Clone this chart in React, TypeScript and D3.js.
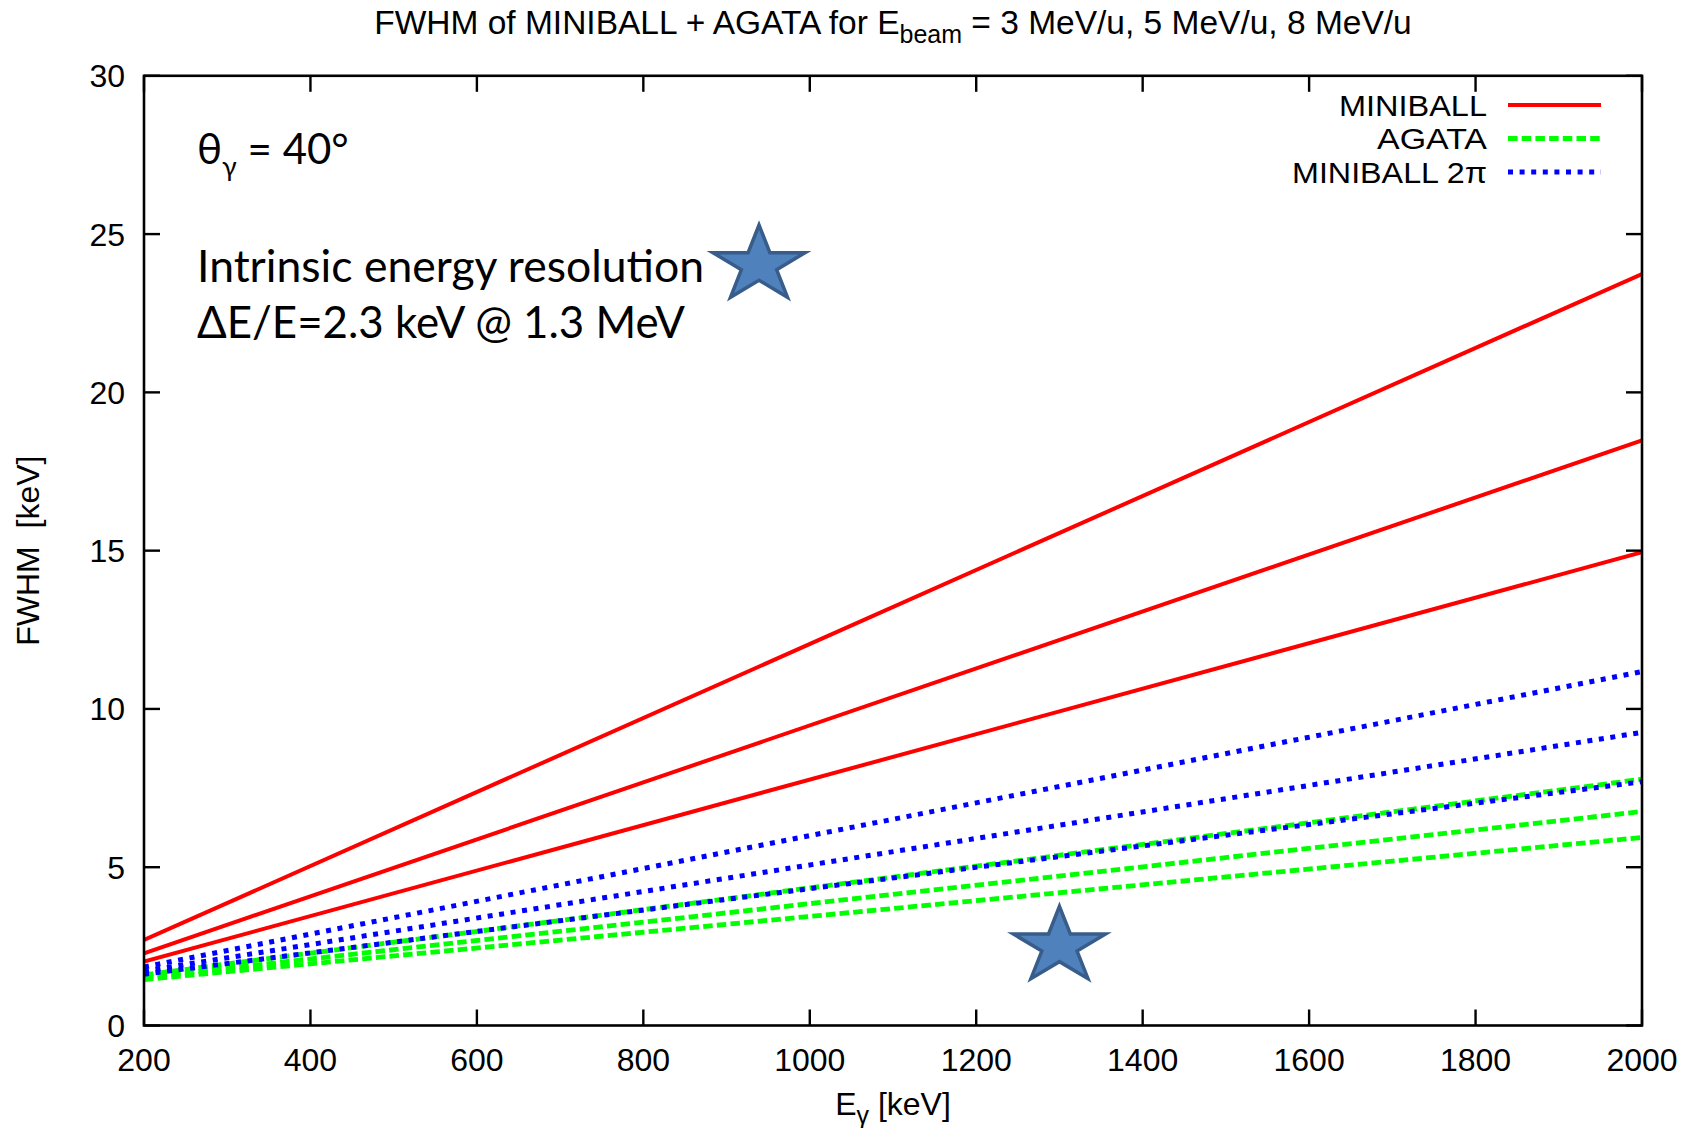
import React from "react";
import * as d3 from "d3";

// ---- data ----
const ENERGIES = [200, 2000];
const MINIBALL_3 = [2.02, 14.95];
const MINIBALL_5 = [2.28, 18.48];
const MINIBALL_8 = [2.7, 23.74];
const AGATA_3 = [1.45, 5.94];
const AGATA_5 = [1.52, 6.76];
const AGATA_8 = [1.6, 7.78];
const MB2PI_3 = [1.62, 7.7];
const MB2PI_5 = [1.72, 9.26];
const MB2PI_8 = [1.85, 11.18];
const X_TICKS = [200, 400, 600, 800, 1000, 1200, 1400, 1600, 1800, 2000];
const Y_TICKS = [0, 5, 10, 15, 20, 25, 30];
const INTRINSIC_POINT = { e: 1300, fwhm: 2.5 };
const LEGEND = ["MINIBALL", "AGATA", "MINIBALL 2\u03c0"];
const LEGEND_WIDTHS = [148, 110, 195];

const W = 1698;
const H = 1128;
const L = 144, R = 1642, T = 75.8, B = 1025.5;

const RED = "#ff0000", GREEN = "#00ff00", BLUE = "#0000ff";
const STYLES: Record<string, { color: string; dash?: string; width: number }> = {
  mb: { color: RED, width: 4 },
  ag: { color: GREEN, dash: "9.5 4.2", width: 4.8 },
  pi: { color: BLUE, dash: "5 6.6", width: 5 },
};

function starPath(cx: number, cy: number, rx: number, ry: number) {
  const pts: string[] = [];
  for (let i = 0; i < 10; i++) {
    const a = -Math.PI / 2 + (i * Math.PI) / 5;
    const k = i % 2 === 0 ? 1 : 0.382;
    pts.push(`${cx + Math.cos(a) * rx * k},${cy + Math.sin(a) * ry * k}`);
  }
  return "M" + pts.join("L") + "Z";
}

export default function App() {
  const x = d3.scaleLinear().domain([200, 2000]).range([L, R]);
  const y = d3.scaleLinear().domain([0, 30]).range([B, T]);
  const line = d3
    .line<number>()
    .x((_, i) => x(ENERGIES[i]))
    .y((d) => y(d));

  const series: { key: string; vals: number[] }[] = [
    { key: "mb", vals: MINIBALL_3 },
    { key: "mb", vals: MINIBALL_5 },
    { key: "mb", vals: MINIBALL_8 },
    { key: "ag", vals: AGATA_3 },
    { key: "ag", vals: AGATA_5 },
    { key: "ag", vals: AGATA_8 },
    { key: "pi", vals: MB2PI_3 },
    { key: "pi", vals: MB2PI_5 },
    { key: "pi", vals: MB2PI_8 },
  ];

  const gp = "'Liberation Sans', Arial, Helvetica, sans-serif";
  const ann = "Lato, 'Open Sans', sans-serif";
  const tick = 16;
  const legendKeys = ["mb", "ag", "pi"];

  return (
    <svg
      width={W}
      height={H}
      style={{ position: "absolute", left: 0, top: 0, background: "#fff" }}
    >
      <rect x={0} y={0} width={W} height={H} fill="#fff" />
      <defs>
        <clipPath id="clip">
          <rect x={L} y={T} width={R - L} height={B - T} />
        </clipPath>
      </defs>
      {/* title */}
      <text x={(L + R) / 2} y={34} textAnchor="middle" fontFamily={gp} fontSize={33.5} fill="#000">
        FWHM of MINIBALL + AGATA for E
        <tspan fontSize={25} dy={9}>beam</tspan>
        <tspan dy={-9}> = 3 MeV/u, 5 MeV/u, 8 MeV/u</tspan>
      </text>

      {/* series */}
      <g clipPath="url(#clip)">
        {series.map((s, i) => {
          const st = STYLES[s.key];
          return (
            <path
              key={i}
              d={line(s.vals) || ""}
              fill="none"
              stroke={st.color}
              strokeWidth={st.width}
              strokeDasharray={st.dash}
            />
          );
        })}
      </g>

      {/* frame & ticks */}
      <rect x={L} y={T} width={R - L} height={B - T} fill="none" stroke="#000" strokeWidth={2.6} />
      {X_TICKS.map((t) => (
        <g key={"x" + t}>
          <line x1={x(t)} x2={x(t)} y1={B} y2={B - tick} stroke="#000" strokeWidth={2.4} />
          <line x1={x(t)} x2={x(t)} y1={T} y2={T + tick} stroke="#000" strokeWidth={2.4} />
          <text x={x(t)} y={1071} textAnchor="middle" fontFamily={gp} fontSize={32} fill="#000">
            {t}
          </text>
        </g>
      ))}
      {Y_TICKS.map((t) => (
        <g key={"y" + t}>
          <line x1={L} x2={L + tick} y1={y(t)} y2={y(t)} stroke="#000" strokeWidth={2.4} />
          <line x1={R} x2={R - tick} y1={y(t)} y2={y(t)} stroke="#000" strokeWidth={2.4} />
          <text x={125} y={y(t) + 11.5} textAnchor="end" fontFamily={gp} fontSize={32} fill="#000">
            {t}
          </text>
        </g>
      ))}

      {/* axis labels */}
      <text x={(L + R) / 2} y={1115} textAnchor="middle" fontFamily={gp} fontSize={32} fill="#000">
        E<tspan fontSize={25} dy={9}>{"\u03b3"}</tspan>
        <tspan dy={-9}> [keV]</tspan>
      </text>
      <text
        transform={`translate(39,${(T + B) / 2}) rotate(-90)`}
        textAnchor="middle"
        fontFamily={gp}
        fontSize={32}
        fill="#000"
        style={{ whiteSpace: "pre" }}
      >
        {"FWHM  [keV]"}
      </text>

      {/* legend */}
      {LEGEND.map((lab, i) => {
        const st = STYLES[legendKeys[i]];
        const ly = 105 + i * 33.5;
        return (
          <g key={lab}>
            <text
              x={1487}
              y={ly + 10.5}
              textAnchor="end"
              fontFamily={gp}
              fontSize={29.5}
              fill="#000"
              textLength={LEGEND_WIDTHS[i]}
              lengthAdjust="spacingAndGlyphs"
            >
              {lab}
            </text>
            <line
              x1={1508}
              x2={1601}
              y1={ly}
              y2={ly}
              stroke={st.color}
              strokeWidth={st.width}
              strokeDasharray={st.dash}
            />
          </g>
        );
      })}

      {/* annotations */}
      <text x={197} y={164} fontFamily={ann} fontSize={42} fill="#000">
        {"\u03b8"}
        <tspan fontSize={27} dy={12}>{"\u03b3"}</tspan>
        <tspan dy={-12}>{" = 40\u00b0"}</tspan>
      </text>
      <text x={197} y={282} fontFamily={ann} fontSize={44} fill="#000" textLength={507} lengthAdjust="spacingAndGlyphs">
        Intrinsic energy resolution
      </text>
      <text x={197} y={338} fontFamily={ann} fontSize={44} fill="#000" textLength={488} lengthAdjust="spacingAndGlyphs">
        {"\u0394E/E=2.3 keV @ 1.3 MeV"}
      </text>
      <path d={starPath(759, 265, 48.5, 40)} fill="#4f81bd" stroke="#385d8a" strokeWidth={3.5} />
      <path
        d={starPath(x(INTRINSIC_POINT.e), y(INTRINSIC_POINT.fwhm), 48.5, 40)}
        fill="#4f81bd"
        stroke="#385d8a"
        strokeWidth={3.5}
      />
    </svg>
  );
}
